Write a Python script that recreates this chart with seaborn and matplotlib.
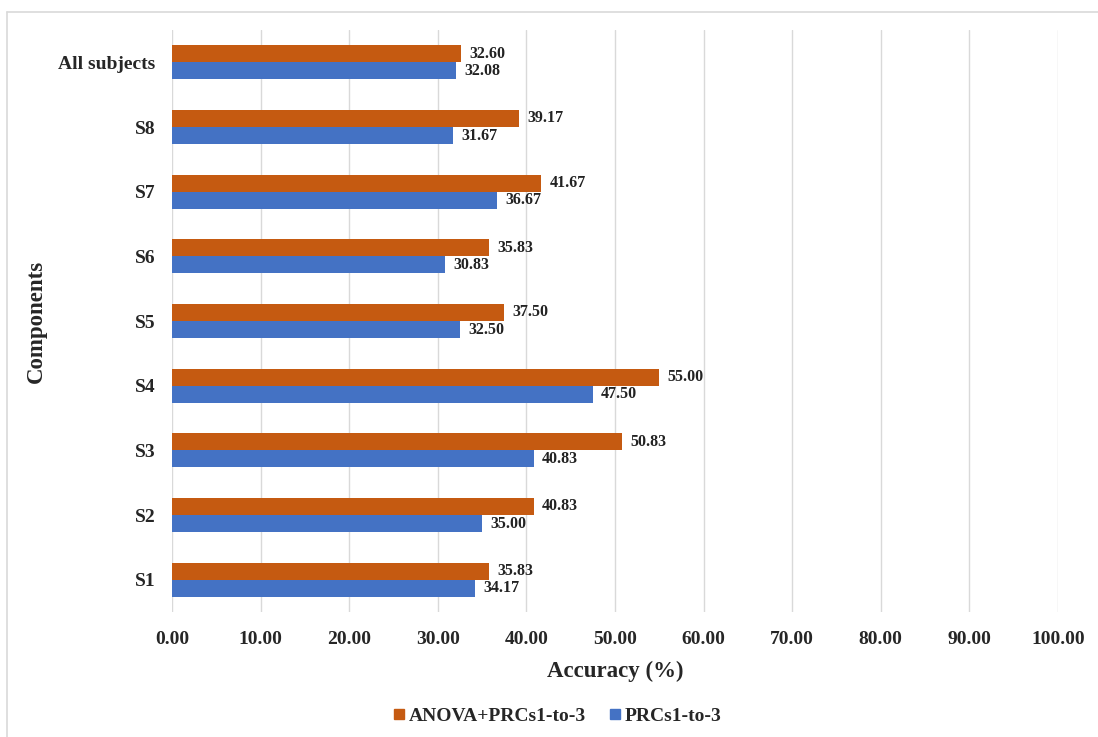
import matplotlib
matplotlib.use("Agg")
import matplotlib.pyplot as plt
import seaborn as sns
import pandas as pd
from matplotlib.lines import Line2D

categories = ["All subjects", "S8", "S7", "S6", "S5", "S4", "S3", "S2", "S1"]
anova_prcs = [32.60, 39.17, 41.67, 35.83, 37.50, 55.00, 50.83, 40.83, 35.83]
prcs = [32.08, 31.67, 36.67, 30.83, 32.50, 47.50, 40.83, 35.00, 34.17]
series_names = ["ANOVA+PRCs1-to-3", "PRCs1-to-3"]
xticks = [0, 10, 20, 30, 40, 50, 60, 70, 80, 90, 100]

colors = {"ANOVA+PRCs1-to-3": "#C55A11", "PRCs1-to-3": "#4472C4"}

df = pd.DataFrame({
    "Component": categories * 2,
    "Accuracy": anova_prcs + prcs,
    "Series": [series_names[0]] * len(categories) + [series_names[1]] * len(categories),
})

sns.set_theme(style="white")
plt.rcParams["font.family"] = ["Liberation Serif", "DejaVu Serif"]
plt.rcParams["font.weight"] = "bold"

fig = plt.figure(figsize=(10.98, 7.37), dpi=100)
ax = fig.add_axes([172 / 1098, 1 - 612 / 737, (1058 - 172) / 1098, (612 - 30) / 737])

sns.barplot(data=df, y="Component", x="Accuracy", hue="Series", order=categories,
            hue_order=series_names, palette=colors, orient="h", width=0.53,
            ax=ax, legend=False, saturation=1, linewidth=0)

for c in ax.containers:
    ax.bar_label(c, labels=[f"{v:.2f}" for v in c.datavalues], padding=6,
                 fontsize=11.5, fontweight="bold", color="#222222")

ax.set_xlim(0, 100)
ax.set_xticks(xticks)
ax.set_xticklabels([f"{t:.2f}" for t in xticks], fontsize=14, fontweight="bold")
ax.tick_params(axis="y", labelsize=14, length=0, pad=12)
ax.tick_params(axis="x", length=0, pad=14)
for lab in ax.get_yticklabels():
    lab.set_fontweight("bold")
ax.xaxis.grid(True, color="#d9d9d9", linewidth=1)
ax.set_axisbelow(True)
for s in ax.spines.values():
    s.set_visible(False)

ax.set_xlabel("Accuracy (%)", fontsize=16.5, fontweight="bold", labelpad=9)
ax.set_ylabel("Components", fontsize=16.5, fontweight="bold", labelpad=8)

handles = [Line2D([], [], marker="s", linestyle="none", markersize=7,
                  markerfacecolor=colors[n], markeredgecolor=colors[n]) for n in series_names]
fig.legend(handles, series_names, loc="center", bbox_to_anchor=(557 / 1098, 1 - 716 / 737),
           ncol=2, frameon=False, handlelength=0.6, handletextpad=0.2, columnspacing=1.2,
           prop={"weight": "bold", "size": 14})

# outer frame (top and left edges)
fig.add_artist(Line2D([7 / 1098, 1], [1 - 12 / 737, 1 - 12 / 737], transform=fig.transFigure,
                      color="#d9d9d9", linewidth=1.2))
fig.add_artist(Line2D([7 / 1098, 7 / 1098], [0, 1 - 12 / 737], transform=fig.transFigure,
                      color="#d9d9d9", linewidth=1.2))

fig.savefig("out.png", dpi=100)
